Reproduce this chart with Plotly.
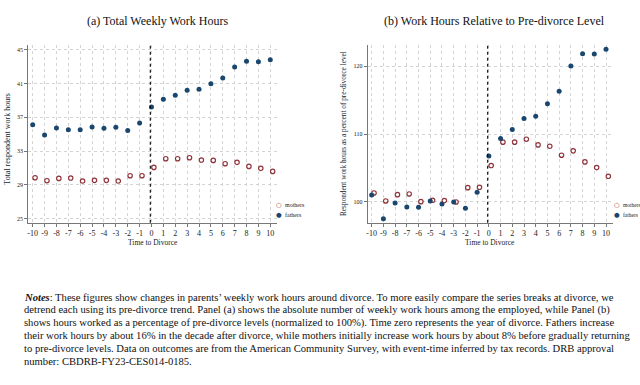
import plotly.graph_objects as go

# ---------------- data ----------------
event_time = list(range(-10, 11))
mothers_offset = 0.2

fathers_hours = [36.12, 34.90, 35.73, 35.53, 35.53, 35.85, 35.69, 35.81, 35.45, 36.32,
                 38.21, 39.12, 39.60, 40.19, 40.31, 40.98, 41.65, 42.95, 43.62, 43.58, 43.82]
mothers_hours = [29.85, 29.50, 29.77, 29.81, 29.46, 29.54, 29.54, 29.46, 30.09, 30.09,
                 31.07, 32.10, 32.10, 32.22, 31.94, 31.90, 31.51, 31.67, 31.19, 30.96, 30.60]

fathers_pct = [101.03, 97.54, 99.85, 99.26, 99.21, 100.15, 99.70, 100.00, 99.07, 101.43,
               106.78, 109.34, 110.66, 112.29, 112.63, 114.45, 116.31, 120.00, 121.82, 121.77, 122.46]
mothers_pct = [101.33, 100.15, 101.08, 101.18, 100.05, 100.25, 100.20, 100.00, 102.11, 102.16,
               105.36, 108.80, 108.80, 109.24, 108.40, 108.20, 106.88, 107.52, 105.90, 105.06, 103.78]

left_yticks = [25, 29, 33, 37, 41, 45]
right_yticks = [100, 110, 120]
xticks = list(range(-10, 11))
xticklabels = [str(t) for t in xticks]
divorce_line_x = -0.1

series_names = ["mothers", "fathers"]
titles = ["(a) Total Weekly Work Hours", "(b) Work Hours Relative to Pre-divorce Level"]
ytitles = ["Total respondent work hours",
           "Respondent work hours as a percent of pre-divorce level"]
xtitle = "Time to Divorce"
notes_lines = [
    "<b><i>Notes</i></b>: These figures show changes in parents\u2019 weekly work hours around divorce. To more easily compare the series breaks at divorce, we",
    "detrend each using its pre-divorce trend. Panel (a) shows the absolute number of weekly work hours among the employed, while Panel (b)",
    "shows hours worked as a percentage of pre-divorce levels (normalized to 100%). Time zero represents the year of divorce. Fathers increase",
    "their work hours by about 16% in the decade after divorce, while mothers initially increase work hours by about 8% before gradually returning",
    "to pre-divorce levels. Data on outcomes are from the American Community Survey, with event-time inferred by tax records. DRB approval",
    "number: CBDRB-FY23-CES014-0185.",
]

# ---------------- styling ----------------
W, H = 640, 385
SERIF = "Liberation Serif"
NAVY = "#1a476f"
MAROON = "#90353b"
TXT = "#222222"

def px_x(p):
    return p / W

def px_y(p):
    return 1 - p / H

mx = [t + mothers_offset for t in event_time]

fig = go.Figure()

mother_marker = dict(symbol="circle-open", size=4.4, color=MAROON, line=dict(width=1.2, color=MAROON))
father_marker = dict(symbol="circle", size=5, color=NAVY)

fig.add_trace(go.Scatter(x=mx, y=mothers_hours, mode="markers", name=series_names[0],
                         marker=mother_marker, xaxis="x", yaxis="y", showlegend=False))
fig.add_trace(go.Scatter(x=event_time, y=fathers_hours, mode="markers", name=series_names[1],
                         marker=father_marker, xaxis="x", yaxis="y", showlegend=False))
fig.add_trace(go.Scatter(x=mx, y=mothers_pct, mode="markers", name=series_names[0],
                         marker=mother_marker, xaxis="x2", yaxis="y2", showlegend=False))
fig.add_trace(go.Scatter(x=event_time, y=fathers_pct, mode="markers", name=series_names[1],
                         marker=father_marker, xaxis="x2", yaxis="y2", showlegend=False))

grid = dict(showgrid=True, gridcolor="#d4d4d4", gridwidth=1, griddash="dot")
axline = dict(showline=True, linecolor="#777777", linewidth=1, zeroline=False,
              ticks="outside", ticklen=3, tickcolor="#777777")

ydom = [px_y(222.7), px_y(45)]
fig.update_layout(
    width=W, height=H,
    margin=dict(l=0, r=0, t=0, b=0),
    paper_bgcolor="white", plot_bgcolor="white",
    font=dict(family=SERIF, color=TXT),
    showlegend=False,
    xaxis=dict(domain=[px_x(28.3), px_x(277.3)], range=[-10.37, 10.59], tickvals=xticks,
               ticktext=xticklabels, tickangle=0, tickfont=dict(size=8), anchor="y",
               **grid, **axline),
    yaxis=dict(domain=ydom, range=[24.53, 45.55], tickvals=left_yticks,
               tickfont=dict(size=6), anchor="x", **grid, **axline),
    xaxis2=dict(domain=[px_x(367.7), px_x(612.7)], range=[-10.34, 10.57], tickvals=xticks,
                ticktext=xticklabels, tickangle=0, tickfont=dict(size=8), anchor="y2",
                **grid, **axline),
    yaxis2=dict(domain=ydom, range=[96.95, 123.1], tickvals=right_yticks,
                tickfont=dict(size=6), anchor="x2", **grid, **axline),
)

for xr in ["x", "x2"]:
    fig.add_shape(type="line", xref=xr, yref=("y" if xr == "x" else "y2") + " domain",
                  x0=divorce_line_x, x1=divorce_line_x, y0=0, y1=1,
                  line=dict(color="black", width=1.1, dash="dot"))

ann = []
ann.append(dict(text=titles[0], x=px_x(158), y=px_y(20.7), xref="paper", yref="paper",
                showarrow=False, font=dict(size=12, family=SERIF, color="#111"),
                xanchor="center", yanchor="middle"))
ann.append(dict(text=titles[1], x=px_x(494), y=px_y(20.7), xref="paper", yref="paper",
                showarrow=False, font=dict(size=12, family=SERIF, color="#111"),
                xanchor="center", yanchor="middle"))
for cx in [152.8, 490.2]:
    ann.append(dict(text=xtitle, x=px_x(cx), y=px_y(242.3), xref="paper", yref="paper",
                    showarrow=False, font=dict(size=7.5, family=SERIF, color=TXT),
                    xanchor="center", yanchor="middle"))
ann.append(dict(text=ytitles[0], x=px_x(6.7), y=px_y(139), xref="paper", yref="paper",
                showarrow=False, textangle=-90, font=dict(size=8, family=SERIF, color=TXT),
                xanchor="center", yanchor="middle"))
ann.append(dict(text=ytitles[1], x=px_x(343.3), y=px_y(133.8), xref="paper", yref="paper",
                showarrow=False, textangle=-90, font=dict(size=7.3, family=SERIF, color=TXT),
                xanchor="center", yanchor="middle"))

# legends (symbol glyph + label) for each panel
legend_specs = [(278.7, 6.0), (617.0, 5.5)]
legend_rows = [(204.7, "\u25cb", MAROON, 6.5), (214.7, "\u25cf", NAVY, 6.5)]
for lx, lsize in legend_specs:
    for (ly, glyph, col, gsize), name in zip(legend_rows, series_names):
        ann.append(dict(text=glyph, x=px_x(lx), y=px_y(ly), xref="paper", yref="paper",
                        showarrow=False, font=dict(size=gsize, family="DejaVu Sans", color=col),
                        xanchor="center", yanchor="middle"))
        ann.append(dict(text=name, x=px_x(lx + 4.0), y=px_y(ly), xref="paper", yref="paper",
                        showarrow=False, font=dict(size=lsize, family=SERIF, color=TXT),
                        xanchor="left", yanchor="middle"))

for i, line in enumerate(notes_lines):
    ann.append(dict(text=line, x=px_x(22), y=px_y(297 + 12.8 * i), xref="paper", yref="paper",
                    showarrow=False, font=dict(size=10.6, family=SERIF, color="#111"),
                    xanchor="left", yanchor="middle", align="left"))
fig.update_layout(annotations=ann)

fig.write_html("out.html", config={"displayModeBar": False},
               post_script="document.body.style.margin='0px';document.body.style.padding='0px';")
